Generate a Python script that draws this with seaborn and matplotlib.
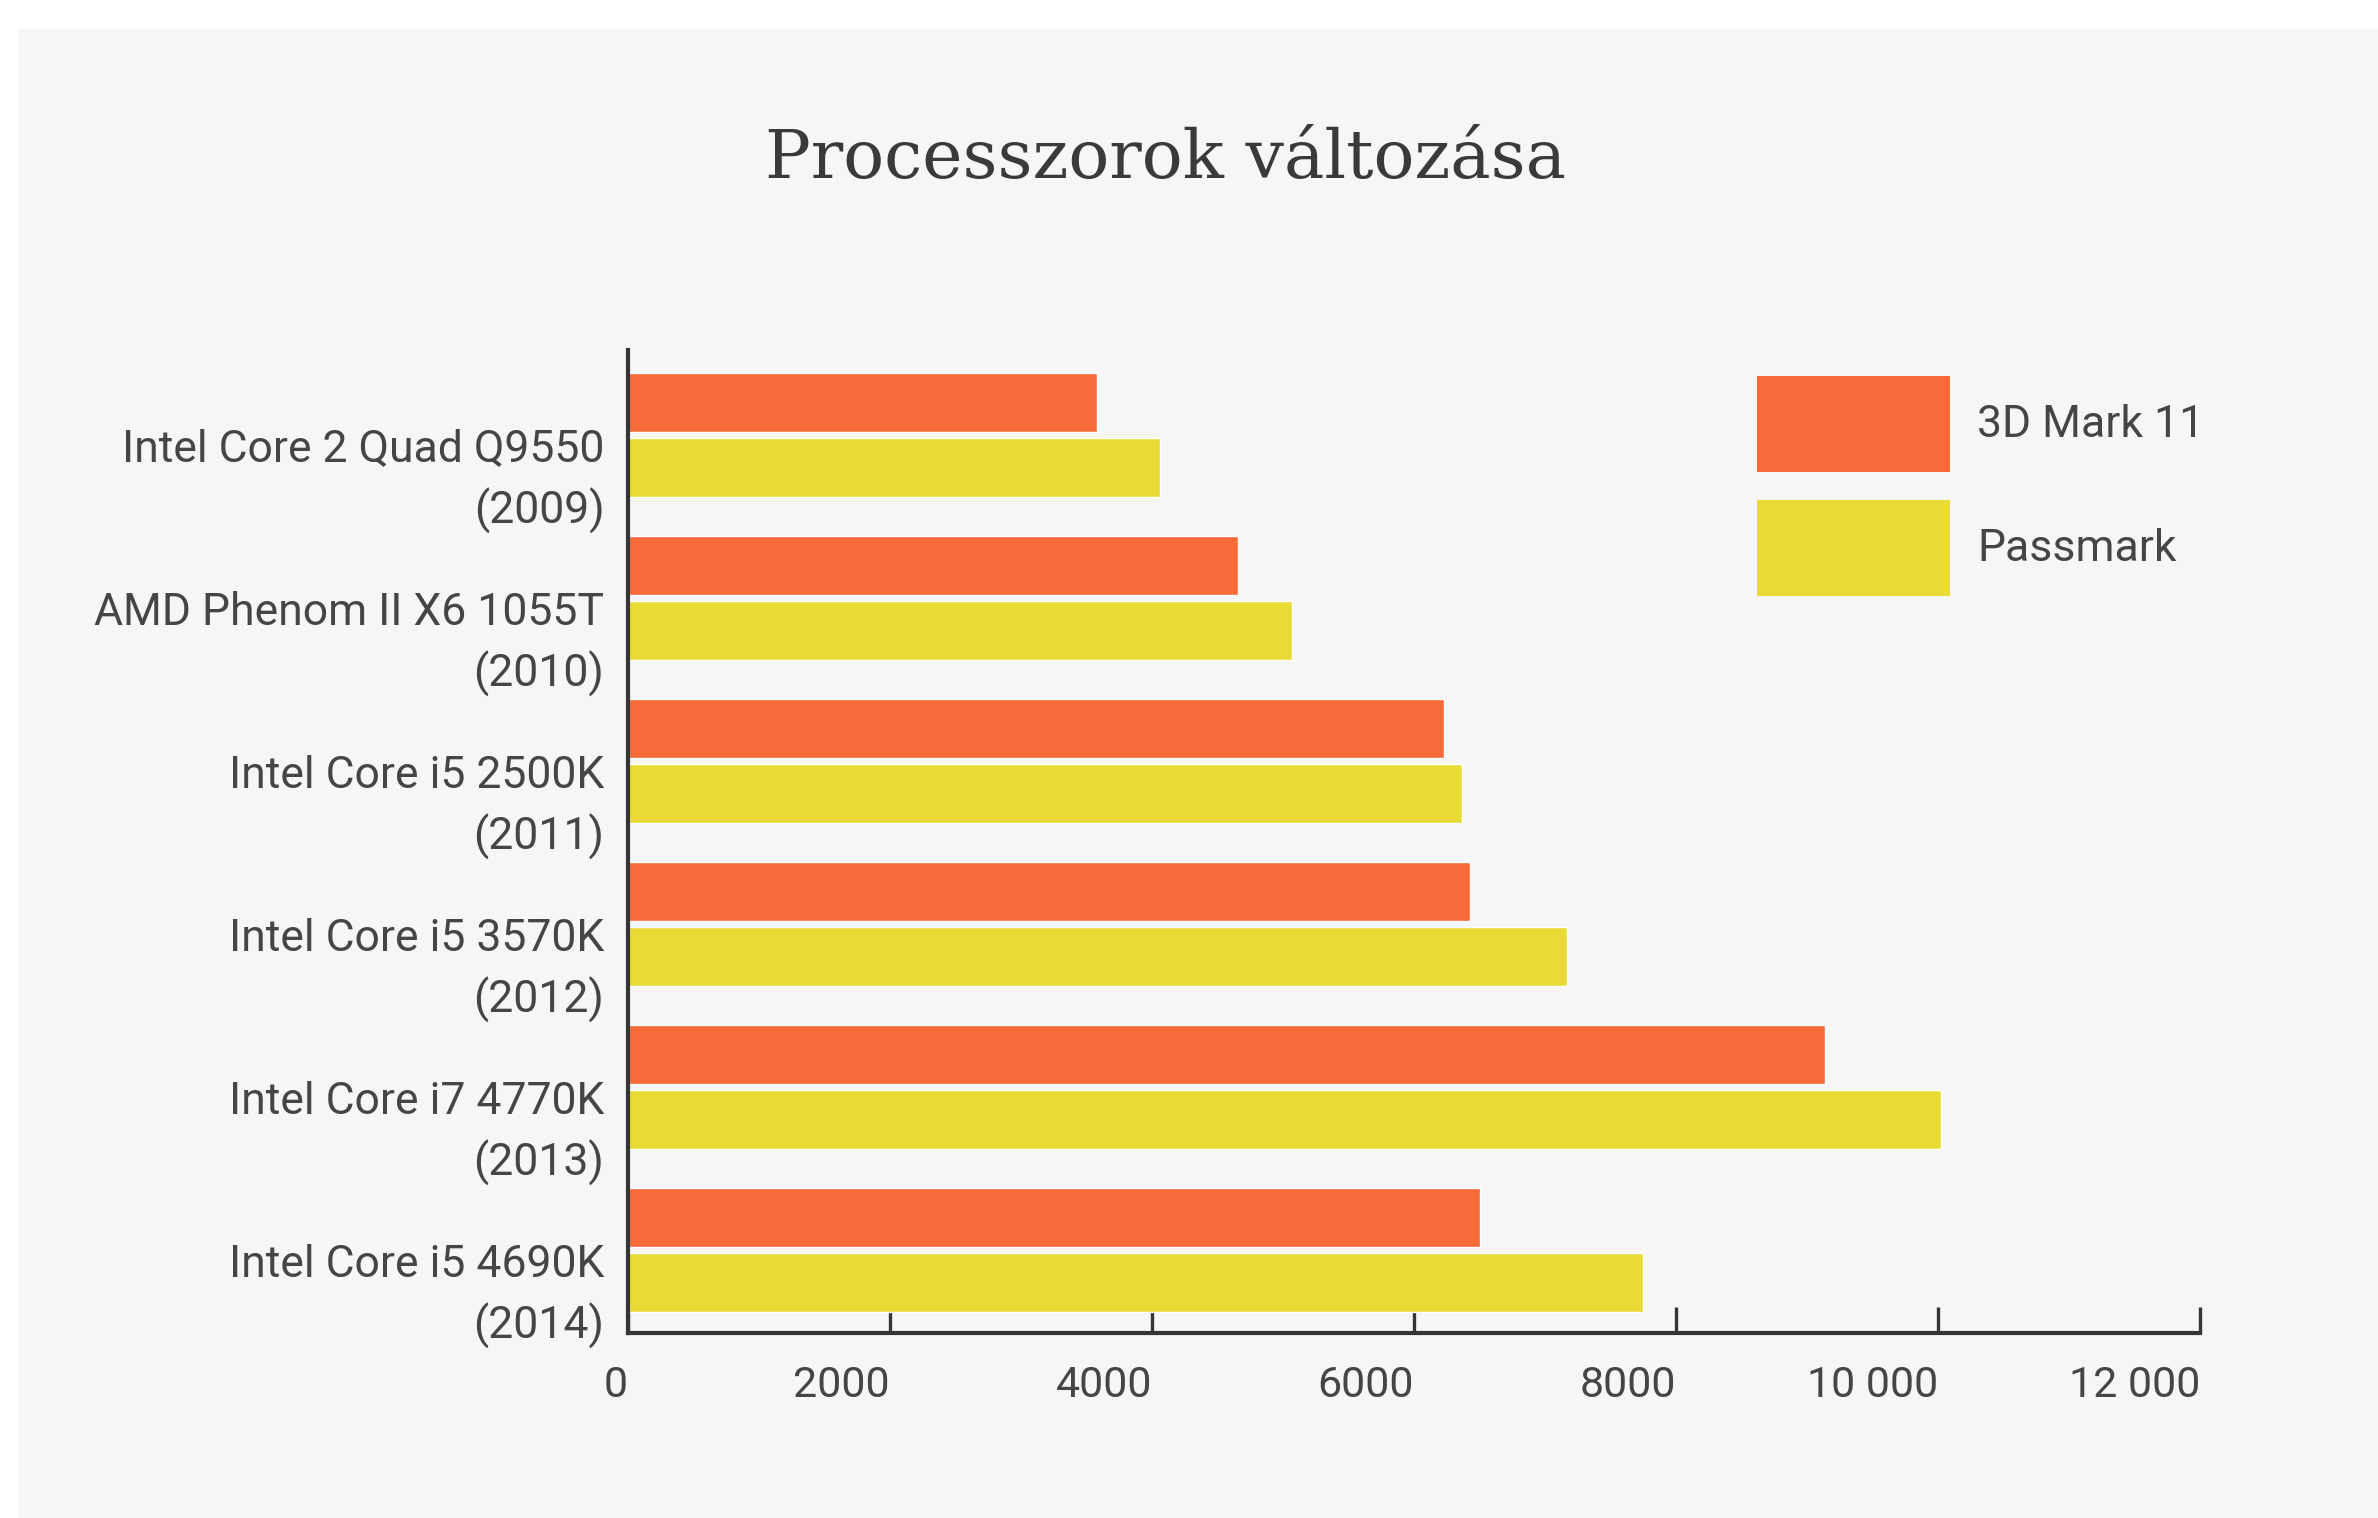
import numpy as np
import pandas as pd
import matplotlib
matplotlib.use("Agg")
import matplotlib.pyplot as plt
from matplotlib.patches import Rectangle
import seaborn as sns

# -----------------------------
# Data
# -----------------------------

cpus = [
    "Intel Core 2 Quad Q9550\n(2009)",
    "AMD Phenom II X6 1055T\n(2010)",
    "Intel Core i5 2500K\n(2011)",
    "Intel Core i5 3570K\n(2012)",
    "Intel Core i7 4770K\n(2013)",
    "Intel Core i5 4690K\n(2014)",
]
mark3d = [3580, 4660, 6230, 6430, 9140, 6500]
passmark = [4060, 5070, 6370, 7170, 10020, 7750]

series = ["3D Mark 11", "Passmark"]
x_ticks = [0, 2000, 4000, 6000, 8000, 10000, 12000]
x_tick_labels = ["0", "2000", "4000", "6000", "8000", "10 000", "12 000"]

title = "Processzorok változása"

orange = "#f76a39"
yellow = "#e9da36"
bg = "#f6f6f6"
text_col = "#454545"
axis_col = "#353535"

df = pd.DataFrame({
    "cpu": cpus * 2,
    "score": mark3d + passmark,
    "benchmark": [series[0]] * len(cpus) + [series[1]] * len(cpus),
})

# -----------------------------
# Figure
# -----------------------------

sns.set_style("white")
plt.rcParams["font.family"] = ["Roboto", "DejaVu Sans"]

fig = plt.figure(figsize=(23.78, 15.18), dpi=100, facecolor="white")

# light grey panel behind the chart
fig.patches.append(Rectangle((18 / 2378, 0), 1, 1 - 29 / 1518,
                             transform=fig.transFigure, facecolor=bg,
                             edgecolor="none", zorder=-5))

ax = fig.add_axes([628 / 2378, 1 - 1333 / 1518, 1572 / 2378, 983 / 1518])
ax.patch.set_alpha(0)

sns.barplot(
    data=df, y="cpu", x="score", hue="benchmark",
    orient="h", palette=[orange, yellow],
    width=0.8, gap=0.1, saturation=1,
    order=cpus, hue_order=series,
    ax=ax, legend=False,
)

ax.set_xlim(0, 12000)
ax.set_ylim(len(cpus) - 0.49, -0.52)

# y labels sit a bit below the bar pair
ax.set_yticks(np.arange(len(cpus)) + 0.2)
ax.set_yticklabels(cpus, fontsize=32, color=text_col, linespacing=1.5)
ax.tick_params(axis="y", left=False, length=0, pad=17)

ax.set_xticks(x_ticks)
ax.set_xticklabels(x_tick_labels, fontsize=31, color=text_col, ha="right")
ax.tick_params(axis="x", bottom=True, direction="in", length=19, width=2.4,
               color=axis_col, pad=23)

ax.set_xlabel("")
ax.set_ylabel("")

for side in ["top", "right"]:
    ax.spines[side].set_visible(False)
for side in ["left", "bottom"]:
    ax.spines[side].set_color(axis_col)
    ax.spines[side].set_linewidth(3)

# legend
handles = [Rectangle((0, 0), 1, 1, facecolor=c, edgecolor="none")
           for c in [orange, yellow]]
fig.legend(
    handles, series,
    loc="upper left", bbox_to_anchor=(1757 / 2378, 1 - 376 / 1518),
    frameon=False, fontsize=32, labelcolor=text_col,
    handlelength=4.35, handleheight=2.93,
    handletextpad=0.6, labelspacing=0.65,
    borderpad=0, borderaxespad=0,
)

fig.text(0.49, 1 - 178 / 1518, title, ha="center", va="baseline",
         fontsize=49, color="#3a3a3a", family=["DejaVu Serif"])

fig.savefig("out.png", dpi=100, facecolor=fig.get_facecolor())
